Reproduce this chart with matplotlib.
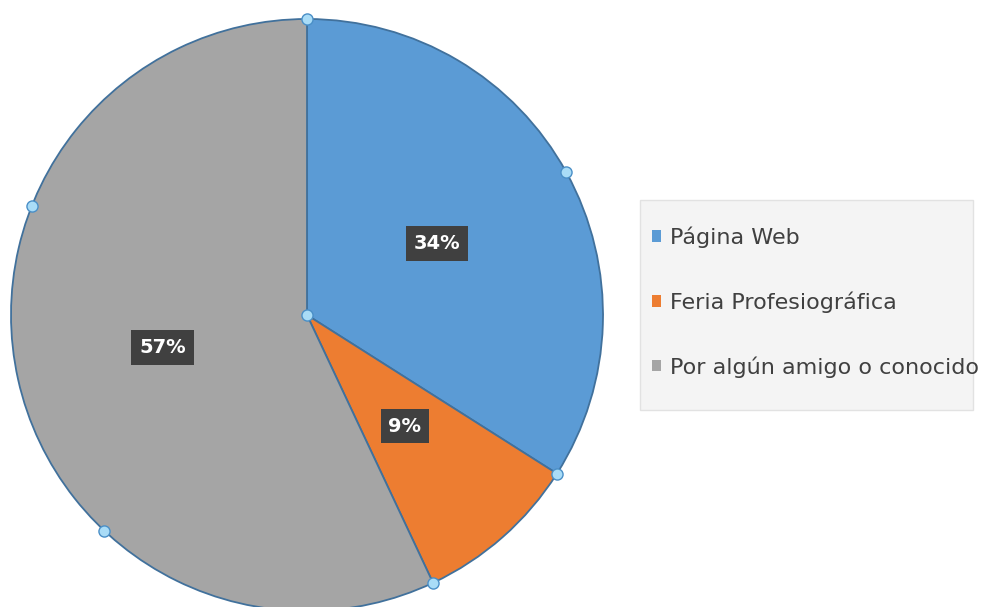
"""Pie chart: how respondents heard about the programme."""
import numpy as np
import matplotlib
matplotlib.use("Agg")
import matplotlib.pyplot as plt
from matplotlib.patches import Patch, Rectangle

LABELS = ["Página Web", "Feria Profesiográfica", "Por algún amigo o conocido"]
VALUES = [34, 9, 57]
COLORS = ["#5B9BD5", "#ED7D31", "#A5A5A5"]
EDGE = "#41719C"
HANDLE_FC, HANDLE_EC = "#A9DCF7", "#4A8FC7"

W, H = 992, 607
CX, CY, R = 307, 315, 296   # pie centre / radius in pixels


def main():
    fig = plt.figure(figsize=(W / 100, H / 100), dpi=100)
    ax = fig.add_axes([(CX - R) / W, (H - CY - R) / H, 2 * R / W, 2 * R / H])

    wedges, _, autotexts = ax.pie(
        VALUES, colors=COLORS, startangle=90, counterclock=False, radius=1,
        autopct=lambda p: f"{p:.0f}%", pctdistance=0.5,
        wedgeprops=dict(edgecolor=EDGE, linewidth=1.3))
    ax.set_xlim(-1, 1); ax.set_ylim(-1, 1); ax.set_aspect("equal"); ax.axis("off")
    for t in autotexts:
        t.set_color("white"); t.set_fontsize(14); t.set_fontweight("bold")
        t.set_bbox(dict(boxstyle="square,pad=0.4", facecolor="#404040", edgecolor="none"))

    # selection handles: centre, slice boundaries, arc subdivisions
    frac = np.array(VALUES, float) / sum(VALUES)
    bounds = np.concatenate([[0], np.cumsum(frac)]) * 360
    angs = []
    for a0, a1 in zip(bounds[:-1], bounds[1:]):
        n = max(1, int(round((a1 - a0) / 68)))
        angs += list(np.linspace(a0, a1, n + 1)[:-1])
    angs = np.radians(angs)
    ax.plot(np.sin(angs), np.cos(angs), "o", ms=8, mfc=HANDLE_FC, mec=HANDLE_EC,
            mew=1.0, clip_on=False, zorder=5)
    ax.plot([0], [0], "o", ms=8, mfc=HANDLE_FC, mec=HANDLE_EC, mew=1.0, zorder=5)

    # legend box (text runs slightly past the frame, as in the original)
    fig.patches.append(Rectangle((640 / W, 1 - 410 / H), 333 / W, 210 / H,
                                 transform=fig.transFigure, facecolor="#F4F4F4",
                                 edgecolor="#E2E2E2", linewidth=1.0, zorder=0))
    handles = [Patch(facecolor=c, edgecolor="none", label=l) for c, l in zip(COLORS, LABELS)]
    leg = fig.legend(handles=handles, loc="center left",
                     bbox_to_anchor=(652 / W, 1 - 302 / H), fontsize=16,
                     handlelength=0.42, handleheight=0.42, handletextpad=0.4,
                     labelspacing=1.95, borderpad=0, borderaxespad=0, frameon=False)
    for t in leg.get_texts():
        t.set_color("#404040")

    fig.savefig("out.png", dpi=100)
    plt.close(fig)


if __name__ == "__main__":
    main()
